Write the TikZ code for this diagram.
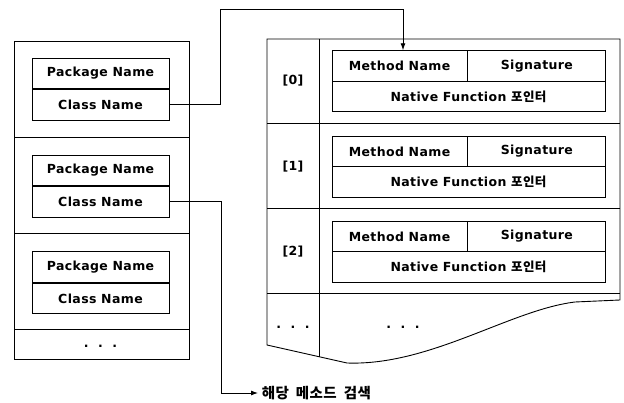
\documentclass[tikz,border=0pt]{standalone}
\usepackage{fontspec}
\setmainfont{DejaVu Sans}[LetterSpace=3]
\newfontfamily\kr{Noto Sans CJK KR}[LetterSpace=3]
\usetikzlibrary{arrows.meta,positioning}

\begin{document}
\begin{tikzpicture}[x=1pt,y=-1pt,line width=0.9pt,
    every node/.style={font=\fontsize{12.5}{15}\selectfont\bfseries},
    cell/.style={draw,minimum height=30.5pt,inner sep=0pt},
    arr/.style={-{Latex[length=7pt,width=5pt]}}]
\useasboundingbox (0,0) rectangle (624,403);
%----------left table---------------------------
\draw (14,41) rectangle (189,359);
\foreach \y in {137,233,329} \draw (14,\y) -- (189,\y);
\foreach \i/\y in {1/73.5,2/170.5,3/267}{
  \node[cell,minimum width=137pt] (pkg\i) at (100.5,\y) {Package Name};
  \node[cell,minimum width=137pt,below=0pt of pkg\i] (cls\i) {Class Name};
}
\node (ldots) at (100.5,346) {.\ \ .\ \ .};
%----------right table--------------------------
\draw (267,345) -- (267,39) -- (620,39) -- (620,300) -- (575,302)
    .. controls (510,310) and (430,366) .. (347,363) -- cycle;
\draw (319,39) -- (319,357);
\foreach \y in {123,208,293} \draw (267,\y) -- (620,\y);
\foreach \i/\y in {0/66,1/151.5,2/236.5}{
  \node[cell,minimum width=135pt] (meth\i) at (399.5,\y) {Method Name};
  \node[cell,minimum width=138pt,right=0pt of meth\i] (sig\i) {Signature};
  \node[cell,minimum width=273pt] (nat\i) at (468.5,\y+30.5) {Native Function {\kr 포인터}};
  \node (idx\i) at (293,\y+15) {[\i]};
}
\node (rdots1) at (293,327) {.\ \ .\ \ .};
\node (rdots2) at (403,327) {.\ \ .\ \ .};
%----------links--------------------------------
\coordinate (up) at (220,9);
\coordinate (down) at (221,393);
\node[anchor=west,font=\fontsize{14.5}{16}\selectfont\bfseries] (search) at (258,393)
    {\kr 해당\hspace{7pt}메소드\hspace{7pt}검색};
\draw[arr] (cls1.east) -| (up) -| ([xshift=3.5pt]meth0.north);
\draw[arr] (cls2.east) -| (down) -- (search.west);
\end{tikzpicture}
\end{document}
